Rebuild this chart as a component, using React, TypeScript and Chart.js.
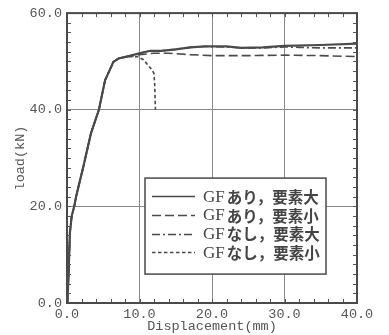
import React, { useEffect, useRef } from "react";
import { Chart, registerables } from "chart.js";

Chart.register(...registerables);

// Shared elastic rise (all four analyses coincide here)
const riseX = [0, 0.1, 0.2, 0.4, 0.65, 1.0, 1.25, 2.25, 3.3, 4.4, 5.25, 6.4, 7.1];
const riseY = [0, 2, 5, 14.5, 18, 20, 22, 28.2, 35.1, 40, 46.1, 49.9, 50.6];

// GFあり,要素大
const gfLargeX = [8.5, 10, 11.5, 13, 15, 17, 19, 22, 24, 27, 30, 35, 40];
const gfLargeY = [51.1, 51.7, 52.2, 52.2, 52.5, 52.9, 53.1, 53.1, 52.8, 52.9, 53.2, 53.4, 53.7];

// GFあり,要素小
const gfSmallX = [8.5, 10, 12, 14, 17, 20, 25, 30, 35, 40];
const gfSmallY = [51.0, 51.4, 51.7, 51.7, 51.4, 51.2, 51.2, 51.3, 51.2, 51.0];

// GFなし,要素大
const noGfLargeX = [8.5, 10, 11.5, 13, 15, 17, 19, 22, 24, 27, 30, 32, 35, 40];
const noGfLargeY = [51.1, 51.7, 52.2, 52.2, 52.5, 52.9, 53.1, 53.0, 52.8, 52.8, 53.0, 52.9, 52.8, 52.8];

// GFなし,要素小
const noGfSmallX = [8.5, 9.7, 10.5, 11.2, 11.7, 12.0, 12.1, 12.2];
const noGfSmallY = [51.0, 51.0, 50.4, 49.2, 48.3, 47.5, 45, 40];

const seriesLabels = ["GFあり，要素大", "GFあり，要素小", "GFなし，要素大", "GFなし，要素小"];
const xTickValues = [0, 10, 20, 30, 40];
const yTickValues = [0, 20, 40, 60];

const INK = "#4a4a4a";
const MONO = "'Liberation Mono', 'DejaVu Sans Mono', monospace";
const dashes = [[], [9, 4], [8, 3, 2, 3], [3.5, 2.5]];
const widths = [2.2, 1.6, 1.6, 1.6];

function pts(xs: number[], ys: number[]) {
  const a = riseX.map((x, i) => ({ x, y: riseY[i] }));
  return a.concat(xs.map((x, i) => ({ x, y: ys[i] })));
}

const decorPlugin = {
  id: "decor",
  afterDraw(chart: any) {
    const { ctx, chartArea: ca, scales } = chart;
    const xs = scales.x;
    const ys = scales.y;
    ctx.save();
    // minor ticks inside on all sides
    ctx.strokeStyle = "#555";
    ctx.lineWidth = 1;
    const tl = 4;
    ctx.beginPath();
    for (let v = 0; v <= 40; v += 2) {
      const px = Math.round(xs.getPixelForValue(v)) + 0.5;
      ctx.moveTo(px, ca.bottom);
      ctx.lineTo(px, ca.bottom - tl);
      ctx.moveTo(px, ca.top);
      ctx.lineTo(px, ca.top + tl);
    }
    for (let v = 0; v <= 60; v += 2) {
      const py = Math.round(ys.getPixelForValue(v)) + 0.5;
      ctx.moveTo(ca.left, py);
      ctx.lineTo(ca.left + tl, py);
      ctx.moveTo(ca.right, py);
      ctx.lineTo(ca.right - tl, py);
    }
    ctx.stroke();
    // frame
    ctx.strokeStyle = INK;
    ctx.lineWidth = 2;
    ctx.strokeRect(ca.left, ca.top, ca.right - ca.left, ca.bottom - ca.top);

    // legend box
    const bx = ca.left + 78;
    const by = ca.top + 165;
    const bw = 181;
    const bh = 96;
    ctx.fillStyle = "#fff";
    ctx.fillRect(bx, by, bw, bh);
    ctx.strokeStyle = INK;
    ctx.lineWidth = 1.5;
    ctx.strokeRect(bx, by, bw, bh);
    seriesLabels.forEach((lab, i) => {
      const cy = by + 18 + i * 18.7;
      ctx.beginPath();
      ctx.setLineDash(dashes[i]);
      ctx.lineWidth = i === 0 ? 1.5 : 1.3;
      ctx.strokeStyle = INK;
      ctx.moveTo(bx + 7, Math.round(cy) + 0.5);
      ctx.lineTo(bx + 50, Math.round(cy) + 0.5);
      ctx.stroke();
      ctx.setLineDash([]);
      ctx.fillStyle = "#444";
      ctx.textBaseline = "middle";
      ctx.textAlign = "left";
      const head = lab.slice(0, 2);
      const rest = lab.slice(2);
      ctx.font = "17px 'Liberation Serif', serif";
      ctx.fillText(head, bx + 58, cy + 1);
      const w = ctx.measureText(head).width;
      ctx.font = "bold 15.5px 'Noto Sans CJK JP', sans-serif";
      ctx.fillText(rest, bx + 58 + w + 2, cy + 1);
    });
    ctx.restore();
  },
};

export default function App() {
  const ref = useRef<HTMLCanvasElement | null>(null);
  useEffect(() => {
    if (!ref.current) return;
    const series = [
      pts(gfLargeX, gfLargeY),
      pts(gfSmallX, gfSmallY),
      pts(noGfLargeX, noGfLargeY),
      pts(noGfSmallX, noGfSmallY),
    ];
    const order = [3, 2, 1, 0];
    const chart = new Chart(ref.current, {
      type: "line",
      data: {
        datasets: order.map((i) => ({
          label: seriesLabels[i],
          data: series[i],
          borderColor: INK,
          borderWidth: widths[i],
          borderDash: dashes[i],
          pointRadius: 0,
          tension: 0,
          fill: false,
        })),
      },
      options: {
        responsive: false,
        animation: false,
        events: [],
        layout: { padding: { top: 13, right: 32, left: 0, bottom: 0 } },
        plugins: { legend: { display: false }, tooltip: { enabled: false } },
        scales: {
          x: {
            type: "linear",
            min: 0,
            max: 40,
            afterFit: (s: any) => {
              s.height = 32;
            },
            afterBuildTicks: (s: any) => {
              s.ticks = xTickValues.map((v) => ({ value: v }));
            },
            ticks: {
              callback: (v: any) => Number(v).toFixed(1),
              font: { family: MONO, size: 13.5 },
              color: "#555",
              padding: 3,
              maxRotation: 0,
              autoSkip: false,
            },
            grid: { color: "#888", lineWidth: 1, drawTicks: false },
            border: { display: false },
            title: {
              display: true,
              text: "Displacement(mm)",
              font: { family: MONO, size: 13.5 },
              color: "#555",
              padding: { top: 0, bottom: 0 },
            },
          },
          y: {
            type: "linear",
            min: 0,
            max: 60,
            afterFit: (s: any) => {
              s.width = 67;
            },
            afterBuildTicks: (s: any) => {
              s.ticks = yTickValues.map((v) => ({ value: v }));
            },
            ticks: {
              callback: (v: any) => Number(v).toFixed(1),
              font: { family: MONO, size: 13.5 },
              color: "#555",
              padding: 5,
              autoSkip: false,
            },
            grid: { color: "#888", lineWidth: 1, drawTicks: false },
            border: { display: false },
            title: {
              display: true,
              text: "load(kN)",
              font: { family: MONO, size: 13.5 },
              color: "#555",
              padding: { top: 12, bottom: 0 },
            },
          },
        },
      },
      plugins: [decorPlugin],
    });
    return () => chart.destroy();
  }, []);
  return (
    <div style={{ position: "fixed", left: 0, top: 0, width: 389, height: 335, background: "#fff" }}>
      <canvas ref={ref} width={389} height={335} style={{ width: 389, height: 335, display: "block" }} />
    </div>
  );
}
